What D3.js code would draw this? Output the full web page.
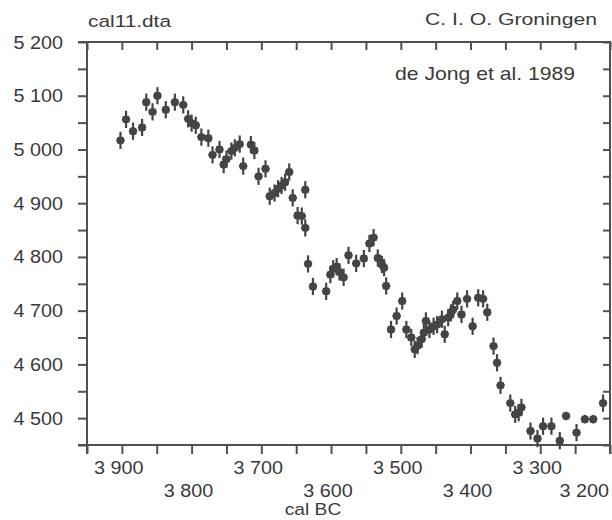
<!DOCTYPE html>
<html>
<head>
<meta charset="utf-8">
<script src="https://cdn.jsdelivr.net/npm/d3@7"></script>
<style>
  html, body { margin: 0; padding: 0; background: #fff; }
  svg { display: block; }
  text { font-family: "Liberation Sans", Arial, Helvetica, sans-serif; fill: #3a3a3a; }
</style>
</head>
<body>
<svg id="chart" width="612" height="520"></svg>
<script>
// ---- data ----
const calBC = [3902,3894,3884,3871,3865,3856,3849,3837,3824,3812,3805,3800,3794,3786,3776,3770,3760,3754,3750,3743,3738,3731,3726,3715,3710,3704,
  3694,3688,3681,3676,3671,3666,3660,3655,3648,3642,3637,3637,3633,3626,3607,3601,3597,3592,3588,3582,3575,3564,3553,3545,3539,3533,3527,3524,3521,
  3514,3506,3498,3492,3485,3480,3476,3470,3467,3464,3459,3453,3448,3441,3437,3432,3428,3425,3419,3413,3405,3397,3389,3382,3376,3367,3362,3357,
  3343,3336,3331,3327,3314,3304,3296,3284,3272,3263,3248,3236,3224,3210];
const bp14C = [5017,5056,5034,5041,5088,5070,5100,5074,5088,5083,5057,5049,5045,5023,5021,4990,5000,4972,4982,4997,5003,5010,4969,5009,4998,4950,
  4964,4913,4919,4927,4933,4939,4958,4910,4877,4876,4925,4854,4787,4745,4736,4767,4778,4782,4772,4762,4803,4788,4797,4825,4836,4798,4786,4780,4746,
  4665,4690,4718,4665,4650,4628,4635,4647,4659,4681,4665,4671,4674,4684,4656,4687,4696,4702,4718,4693,4722,4671,4724,4722,4697,4634,4603,4561,
  4528,4507,4510,4520,4476,4462,4485,4485,4458,4504,4473,4498,4498,4528];
const sigma14C = calBC.map((d, i) => (d === 3263 || d === 3236 || d === 3224) ? 8 : 16);
const sigmaCal = 6;
const xTickValues = d3.range(3200, 3951, 50);
const yTickValues = d3.range(4450, 5201, 50);
const xLabelUpper = [3900, 3700, 3500, 3300];
const xLabelLower = [3800, 3600, 3400, 3200];
const yLabels = [4500, 4600, 4700, 4800, 4900, 5000, 5100, 5200];
const titleLeft = "cal11.dta";
const titleRight = "C. I. O. Groningen";
const noteText = "de Jong et al. 1989";
const xTitle = "cal BC";

// ---- layout ----
const L = 87, R = 610, T = 42, B = 445;
const axisColor = "#505050", markColor = "#444444";
const svg = d3.select("#chart");
const x = d3.scaleLinear().domain([3950, 3200]).range([L, R]);
const y = d3.scaleLinear().domain([4450, 5200]).range([B, T]);
const fmt = d3.formatLocale({decimal: ".", thousands: " ", grouping: [3], currency: ["", ""]}).format(",");

function stretch(sel, f) {
  sel.each(function () {
    const w = this.getComputedTextLength();
    this.setAttribute("textLength", (w * f).toFixed(1));
    this.setAttribute("lengthAdjust", "spacingAndGlyphs");
  });
}
function fixWidth(sel, w) {
  sel.attr("textLength", w).attr("lengthAdjust", "spacingAndGlyphs");
}
function styleAxis(g) {
  g.selectAll(".domain").remove();
  g.selectAll(".tick line").attr("stroke", axisColor).attr("stroke-width", 2);
  g.selectAll(".tick text").remove();
}

// axes ticks
svg.append("g").attr("transform", `translate(0,${B})`)
  .call(d3.axisBottom(x).tickValues(xTickValues).tickSizeInner(9).tickSizeOuter(0)).call(styleAxis);
svg.append("g").attr("transform", `translate(0,${T})`)
  .call(d3.axisTop(x).tickValues(xTickValues).tickSizeInner(-8).tickSizeOuter(0)).call(styleAxis);
svg.append("g").attr("transform", `translate(${L},0)`)
  .call(d3.axisLeft(y).tickValues(yTickValues).tickSizeInner(9).tickSizeOuter(0)).call(styleAxis);
svg.append("g").attr("transform", `translate(${R},0)`)
  .call(d3.axisRight(y).tickValues(yTickValues).tickSizeInner(-7).tickSizeOuter(0)).call(styleAxis);

// frame
const frame = svg.append("g").attr("stroke", axisColor).attr("stroke-width", 2).attr("fill", "none");
frame.append("line").attr("x1", L - 9).attr("x2", R + 1).attr("y1", T).attr("y2", T);
frame.append("line").attr("x1", L - 9).attr("x2", R + 1).attr("y1", B).attr("y2", B);
frame.append("line").attr("x1", L).attr("x2", L).attr("y1", T).attr("y2", B + 9);
frame.append("line").attr("x1", R).attr("x2", R).attr("y1", T).attr("y2", B + 9);

// y labels
svg.append("g").selectAll("text").data(yLabels).join("text")
  .attr("x", 63).attr("y", d => y(d) + 6.5)
  .attr("text-anchor", "end").attr("font-size", 17.5)
  .text(d => fmt(d)).call(stretch, 1.13);

// x labels (two rows)
svg.append("g").selectAll("text").data(xLabelUpper).join("text")
  .attr("x", d => x(d) - 3).attr("y", 474)
  .attr("text-anchor", "middle").attr("font-size", 17.5)
  .text(d => fmt(d)).call(stretch, 1.13);
svg.append("g").selectAll("text").data(xLabelLower).join("text")
  .attr("x", d => d === 3200 ? 609 : x(d) - 3).attr("y", 497)
  .attr("text-anchor", d => d === 3200 ? "end" : "middle").attr("font-size", 17.5)
  .text(d => fmt(d)).call(stretch, 1.13);

svg.append("text").attr("x", 313).attr("y", 515).attr("text-anchor", "middle")
  .attr("font-size", 17).text(xTitle).call(stretch, 1.13);

// titles
svg.append("text").attr("x", 88).attr("y", 27).attr("font-size", 16.3)
  .text(titleLeft).call(fixWidth, 83);
svg.append("text").attr("x", 597).attr("y", 25).attr("text-anchor", "end").attr("font-size", 16.3)
  .text(titleRight).call(fixWidth, 172);
svg.append("text").attr("x", 395).attr("y", 80).attr("font-size", 18.5)
  .text(noteText).call(fixWidth, 180);

// data points with error crosses
const pts = calBC.map((c, i) => ({c, v: bp14C[i], s: sigma14C[i]}));
const g = svg.append("g");
const p = g.selectAll("g.pt").data(pts).join("g").attr("class", "pt");
p.append("line")
  .attr("x1", d => x(d.c)).attr("x2", d => x(d.c))
  .attr("y1", d => y(d.v + d.s)).attr("y2", d => y(d.v - d.s))
  .attr("stroke", markColor).attr("stroke-width", 2.2);
p.append("line")
  .attr("x1", d => x(d.c + sigmaCal)).attr("x2", d => x(d.c - sigmaCal))
  .attr("y1", d => y(d.v)).attr("y2", d => y(d.v))
  .attr("stroke", markColor).attr("stroke-width", 2.2);
p.append("rect")
  .attr("x", d => x(d.c) - 3.7).attr("y", d => y(d.v) - 3.7)
  .attr("width", 7.4).attr("height", 7.4).attr("rx", 2)
  .attr("fill", markColor);
</script>
</body>
</html>
